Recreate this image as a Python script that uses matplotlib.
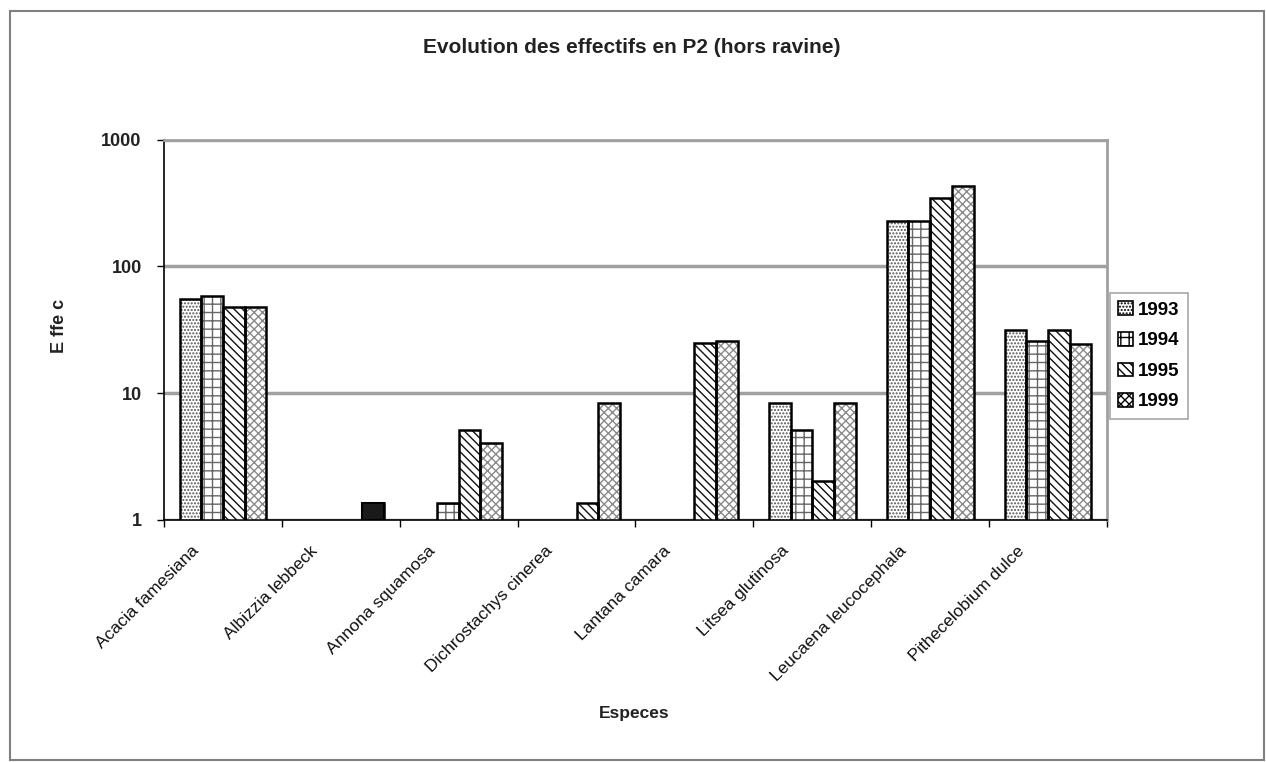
import numpy as np
import matplotlib
matplotlib.use('Agg')
import matplotlib.pyplot as plt
from matplotlib.patches import Patch
from matplotlib.transforms import ScaledTranslation

plt.rcParams['font.family'] = ['Liberation Sans', 'DejaVu Sans']
plt.rcParams['hatch.linewidth'] = 1.0

# effectifs par espece et par annee (nan = absent)
species = ['Acacia famesiana', 'Albizzia lebbeck', 'Annona squamosa',
           'Dichrostachys cinerea', 'Lantana camara', 'Litsea glutinosa',
           'Leucaena leucocephala', 'Pithecelobium dulce']
years = ['1993', '1994', '1995', '1999']
n1993 = [55, np.nan, np.nan, np.nan, np.nan, 8.3, 230, 31.5]
n1994 = [58, np.nan, 1.34, np.nan, np.nan, 5.1, 230, 26]
n1995 = [48, np.nan, 5.1, 1.34, 24.7, 2, 346, 31.5]
n1999 = [48, 1.34, 4, 8.4, 26, 8.3, 435, 24.4]
yticks = [1, 10, 100, 1000]

series = [n1993, n1994, n1995, n1999]
# motif, couleur du motif
styles = [('.....', '#555555'), ('++', '#666666'), ('\\\\\\\\', '#111111'), ('xxxx', '#8a8a8a')]

fig = plt.figure(figsize=(12.66, 7.62), dpi=100)
ax = fig.add_axes([0.1295, 0.3182, 0.7449, 0.4981])

x = np.arange(len(species))
w = 0.184
for j, vals in enumerate(series):
    vals = np.array(vals, dtype=float)
    ok = ~np.isnan(vals)
    xs = x[ok] + (j - 1.5) * w
    h = vals[ok] - 1
    hatch, hc = styles[j]
    ax.bar(xs, h, w, bottom=1, color='white', edgecolor=hc, hatch=hatch, linewidth=0, zorder=3)
    ax.bar(xs, h, w, bottom=1, fill=False, edgecolor='black', linewidth=1.8, zorder=4)

# barre pleine pour Albizzia 1999
ax.bar(x[1] + 1.5 * w, n1999[1] - 1, w, bottom=1, color='#1a1a1a', edgecolor='black', linewidth=1.5, zorder=5)

ax.set_yscale('log')
ax.set_ylim(1, 1000)
ax.set_xlim(-0.5, len(species) - 0.5)
ax.set_yticks(yticks)
ax.set_yticklabels([str(t) for t in yticks], fontsize=13, fontweight='bold', color='#222222')
ax.yaxis.set_minor_locator(matplotlib.ticker.NullLocator())
ax.tick_params(axis='y', length=5, width=1, pad=11)

ax.set_xticks(np.arange(len(species) + 1) - 0.5)
ax.set_xticklabels([])
ax.tick_params(axis='x', length=5, width=1, direction='out')

ax.grid(axis='y', color='#a0a0a0', linewidth=2.5, zorder=0)
for s in ['top', 'right']:
    ax.spines[s].set_color('#a0a0a0')
    ax.spines[s].set_linewidth(2)
ax.spines['left'].set_linewidth(1.2)
ax.spines['bottom'].set_linewidth(1.2)

# noms d'especes inclines
off = ScaledTranslation(-0.26, -0.29, fig.dpi_scale_trans)
tr = matplotlib.transforms.blended_transform_factory(ax.transData, ax.transAxes) + off
for i, name in enumerate(species):
    ax.text(i, 0, name, transform=tr, rotation=45, ha='right', va='center',
            rotation_mode='anchor', fontsize=12.5, color='#111111')

fig.text(0.499, 0.938, 'Evolution des effectifs en P2 (hors ravine)', ha='center', va='center',
         fontsize=15, fontweight='bold', color='#222222')
fig.text(0.047, 0.572, 'E ffe c', rotation=90, ha='center', va='center',
         fontsize=13, fontweight='bold', color='#222222')
fig.text(0.501, 0.063, 'Especes', ha='center', va='center',
         fontsize=12.5, fontweight='bold', color='#222222')

handles = [Patch(facecolor='white', edgecolor='black', hatch=styles[j][0], linewidth=1.2)
           for j in range(len(years))]
leg = fig.legend(handles, years, loc='upper left', bbox_to_anchor=(1110 / 1266, 1 - 293 / 762),
                 bbox_transform=fig.transFigure, borderaxespad=0, fancybox=False,
                 frameon=True, handlelength=0.75, handleheight=0.75, handletextpad=0.3,
                 labelspacing=0.7, borderpad=0.45,
                 prop={'size': 13.5, 'weight': 'bold'})
leg.get_frame().set_edgecolor('#909090')
leg.get_frame().set_linewidth(1.2)

# cadre du graphique
fig.patches.append(matplotlib.patches.Rectangle((10 / 1266, 2 / 762), 1254 / 1266, 749 / 762,
                   transform=fig.transFigure, fill=False, edgecolor='#808080', linewidth=1.5))

fig.savefig('out.png', dpi=100)
